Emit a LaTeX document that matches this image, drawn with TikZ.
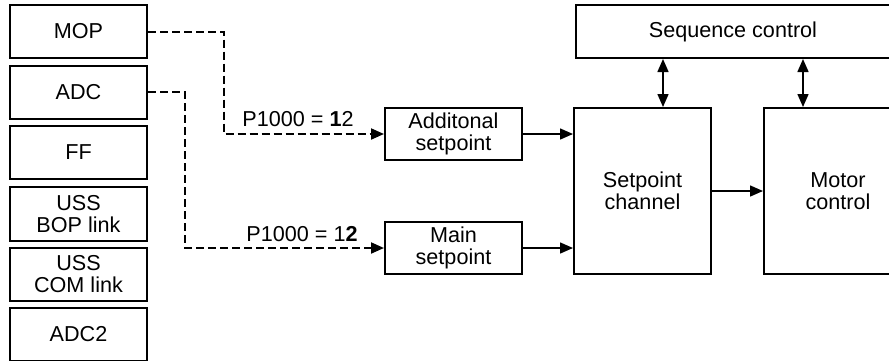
\documentclass[tikz,border=0pt]{standalone}
\usepackage{fontspec}
\setmainfont{Liberation Sans}
\usetikzlibrary{positioning,arrows.meta}

\begin{document}
\begin{tikzpicture}[x=0.5pt,y=-0.5pt,line width=1pt,
  >={Triangle[length=6.5pt,width=5.5pt]},font=\fontsize{10.8}{11}\selectfont]
  \tikzstyle{block}=[rectangle, draw, align=center, inner sep=0pt,
minimum width=68.5pt, minimum height=26.5pt]
  \tikzstyle{link}=[dash pattern=on 4pt off 2pt]
  \useasboundingbox (0,0) rectangle (889,360);
  \node[block] (MOP) at (78.5,31.5) {MOP};
  \node[block] (ADC) at (78.5,92) {ADC};
  \node[block] (FF) at (78.5,152) {FF};
  \node[block, minimum height=27pt] (BOP) at (78.5,214) {USS\\BOP link};
  \node[block] (COM) at (78.5,274.5) {USS\\COM link};
  \node[block] (ADC2) at (78.5,334.5) {ADC2};

  \node[block, minimum height=26pt] (Add) at (453.5,134) {Additonal\\setpoint};
  \node[block, minimum height=26pt] (Main) at (453.5,248) {Main\\setpoint};
  \node[block, minimum height=83pt] (Chan) at (642.5,191) {Setpoint\\channel};
  \node[block, minimum width=74pt, minimum height=83pt] (Motor) at (838,191) {Motor\\control};
  \node[block, minimum width=157pt] (Seq) at (733,31.5) {Sequence control};

  \node (P_1) at (298,119.5) {P1000 = \textbf{1}2};
  \node (P_2) at (302,234) {P1000 = 1\textbf{2}};

  \draw[->,link] (MOP.east) -- ++(38pt,0) |- (Add.west);
  \draw[->,link] (ADC.east) -- ++(18.5pt,0) |- (Main.west);
  \draw[->,line width=0.75pt] (Add.east) -- (Add.east -| Chan.west);
  \draw[->,line width=0.75pt] (Main.east) -- (Main.east -| Chan.west);
  \draw[->,line width=0.75pt] (Chan) -- (Motor);
  \draw[<->,line width=0.75pt] ([xshift=10.25pt]Chan.north) -- ([xshift=10.25pt]Chan.north |- Seq.south);
  \draw[<->,line width=0.75pt] ([xshift=-17.5pt]Motor.north) -- ([xshift=-17.5pt]Motor.north |- Seq.south);
\end{tikzpicture}
\end{document}
